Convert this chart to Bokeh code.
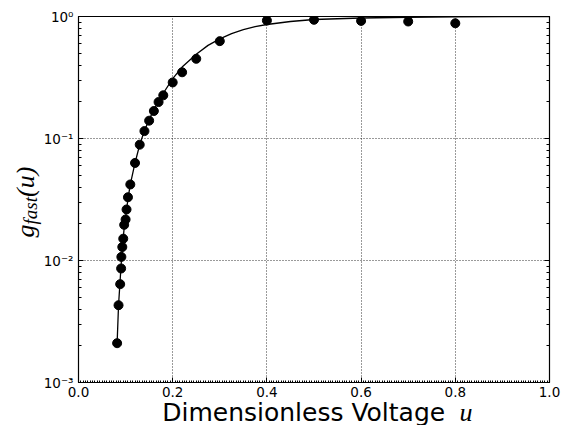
import math
from bokeh.plotting import figure
from bokeh.models import (Range1d, LogAxis, LogTicker, SingleIntervalTicker,
                          CustomJSTickFormatter, Label, NumeralTickFormatter)
from bokeh.embed import file_html
from bokeh.resources import INLINE

# measured points
u_data = [0.082, 0.085, 0.0885, 0.0905, 0.091, 0.093, 0.095, 0.097, 0.100, 0.102,
          0.105, 0.110, 0.120, 0.130, 0.140, 0.150, 0.160, 0.170, 0.180, 0.200,
          0.220, 0.250, 0.300, 0.400, 0.500, 0.600, 0.700, 0.800]
g_data = [0.0021, 0.0043, 0.0064, 0.0086, 0.0107, 0.0129, 0.0151, 0.0196, 0.0217, 0.0262,
          0.033, 0.042, 0.063, 0.089, 0.115, 0.140, 0.168, 0.199, 0.226, 0.288,
          0.349, 0.450, 0.628, 0.927, 0.940, 0.920, 0.910, 0.880]

# fitted curve
u_fit = [0.082, 0.085, 0.088, 0.091, 0.094, 0.097, 0.100, 0.105, 0.110, 0.120,
         0.130, 0.140, 0.150, 0.160, 0.170, 0.180, 0.200, 0.220, 0.250, 0.275,
         0.300, 0.325, 0.350, 0.375, 0.400, 0.450, 0.500, 0.600, 0.700, 0.800,
         0.900, 1.000]
g_fit = [0.0021, 0.0043, 0.0065, 0.0098, 0.014, 0.0185, 0.0225, 0.032, 0.042, 0.063,
         0.089, 0.116, 0.143, 0.172, 0.203, 0.235, 0.310, 0.385, 0.490, 0.580,
         0.655, 0.725, 0.780, 0.825, 0.860, 0.910, 0.945, 0.972, 0.986, 0.993,
         0.997, 1.000]

x_ticks_interval = 0.2

p = figure(frame_width=471, frame_height=366, output_backend="svg", toolbar_location=None,
           y_axis_type="log", x_range=Range1d(0, 1), y_range=Range1d(1e-3, 1),
           min_border_left=78, min_border_right=18, min_border_top=16, min_border_bottom=43,
           background_fill_color="white", border_fill_color="white")
p.outline_line_color = "black"
p.outline_line_width = 1.2

# x axis
xa = p.xaxis[0]
xa.ticker = SingleIntervalTicker(interval=x_ticks_interval, num_minor_ticks=40)
xa.formatter = NumeralTickFormatter(format="0.0")
xa.major_tick_in = 5
xa.major_tick_out = 0
xa.minor_tick_in = 2
xa.minor_tick_out = 0
xa.axis_line_color = "black"
xa.major_label_text_font = "DejaVu Sans"
xa.major_label_text_font_size = "13.5px"
xa.major_label_text_color = "black"
xa.major_label_standoff = 4

# y axis
ya = p.yaxis[0]
ya.ticker = LogTicker(num_minor_ticks=10)
ya.formatter = CustomJSTickFormatter(code="""
const e = Math.round(Math.log10(tick));
const sup = {'0':'\\u2070','1':'\\u00b9','2':'\\u00b2','3':'\\u00b3','-':'\\u207b'};
return '10' + String(e).split('').map(c => sup[c]).join('');
""")
ya.major_tick_in = 5
ya.major_tick_out = 0
ya.minor_tick_in = 3
ya.minor_tick_out = 0
ya.axis_line_color = "black"
ya.major_label_text_font = "DejaVu Sans"
ya.major_label_text_font_size = "13.5px"
ya.major_label_text_color = "black"
ya.major_label_standoff = 5

ra = LogAxis(ticker=LogTicker(num_minor_ticks=10),
             formatter=CustomJSTickFormatter(code="return '';"),
             major_label_standoff=0, major_tick_in=5, major_tick_out=0,
             minor_tick_in=3, minor_tick_out=0, axis_line_color="black")
p.add_layout(ra, "right")

# grids
for g in (p.xgrid[0], p.ygrid[0]):
    g.grid_line_color = "black"
    g.grid_line_dash = "1 2"
    g.grid_line_width = 0.8

# data
p.line(u_fit, g_fit, line_color="black", line_width=1.3)
p.scatter(u_data, g_data, size=9, fill_color="black", line_color="black")

# axis labels: placed with the plot's own scales (data units), hosted in the
# panel below the frame so that they are not clipped to the frame
def add_label(x, y, text, font, size, style="normal", angle=0.0):
    p.add_layout(Label(x=x, y=y, x_units="data", y_units="data", angle=angle,
                       text=text, text_font=font, text_font_style=style,
                       text_font_size=size, text_color="black",
                       text_align="left", text_baseline="alphabetic"), "below")

# x label: "Dimensionless Voltage u"
add_label(0.1777, 5.68e-4, "Dimensionless Voltage", "DejaVu Sans", "25px")
add_label(0.809, 5.68e-4, "u", "Liberation Serif", "26px", "italic")

# y label: g_fast(u)
ang = math.pi / 2
add_label(-0.1125, 0.01543, "g", "Liberation Serif", "26px", "italic", ang)
add_label(-0.1019, 0.01973, "fast", "Liberation Serif", "19px", "italic", ang)
add_label(-0.1125, 0.03315, "(u)", "Liberation Serif", "26px", "italic", ang)

open("out.html", "w").write(file_html(p, INLINE))
